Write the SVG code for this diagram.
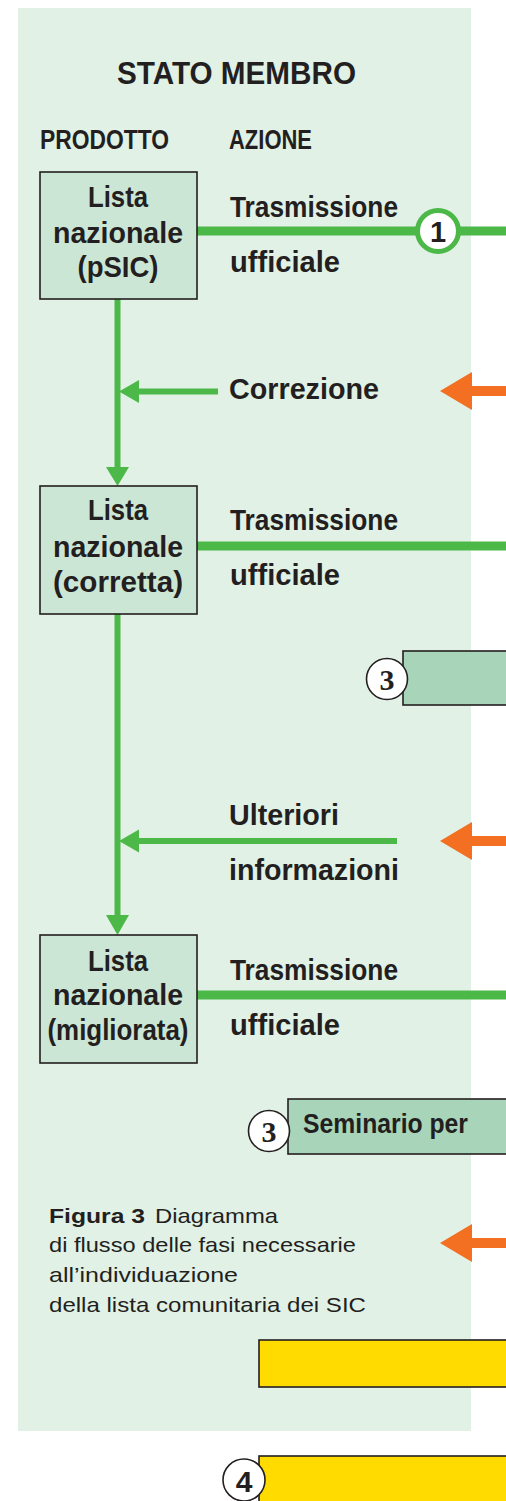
<svg xmlns="http://www.w3.org/2000/svg" width="506" height="1501" viewBox="0 0 506 1501">
<style>
.t{font-family:"Liberation Sans",Arial,sans-serif;font-weight:bold;fill:#231f20}
.c{text-anchor:middle}
.cap{font-family:"Liberation Sans",Arial,sans-serif;font-size:21px;fill:#231f20}
.box{fill:#cce6d6;stroke:#231f20;stroke-width:1.6}
.gbox{fill:#a8d5b9;stroke:#231f20;stroke-width:1.6}
.ybox{fill:#ffdb00;stroke:#231f20;stroke-width:1.6}
.num{fill:#fff;stroke:#231f20;stroke-width:1.6}
.g{stroke:#4cb848;fill:none}
.ga{fill:#4cb848}
.o{fill:#f36f21}
</style>
<rect id="panel" x="18" y="8" width="453" height="1423" fill="#e1f1e6"/>
<g id="headers">
<text class="t" x="117" y="84" font-size="31" textLength="239" lengthAdjust="spacingAndGlyphs">STATO MEMBRO</text>
<text class="t" x="40" y="149" font-size="27" textLength="129" lengthAdjust="spacingAndGlyphs">PRODOTTO</text>
<text class="t" x="229" y="149" font-size="27" textLength="83" lengthAdjust="spacingAndGlyphs">AZIONE</text>
</g>
<g id="connectors">
<line class="g" x1="197" y1="231" x2="506" y2="231" stroke-width="9"/>
<line class="g" x1="197" y1="546" x2="506" y2="546" stroke-width="9"/>
<line class="g" x1="197" y1="995" x2="506" y2="995" stroke-width="9"/>
<line class="g" x1="117.5" y1="299" x2="117.5" y2="470" stroke-width="6"/>
<polygon class="ga" points="106,467 129,467 117.5,486"/>
<line class="g" x1="117.5" y1="614" x2="117.5" y2="918" stroke-width="6"/>
<polygon class="ga" points="106,915 129,915 117.5,935"/>
<line class="g" x1="218" y1="391.5" x2="136" y2="391.5" stroke-width="6"/>
<polygon class="ga" points="139,380 139,403 119,391.5"/>
<line class="g" x1="397" y1="841" x2="136" y2="841" stroke-width="6"/>
<polygon class="ga" points="139,829.5 139,852.5 119,841"/>
<rect class="o" x="470" y="386" width="36" height="10"/>
<polygon class="o" points="472,372 472,410 440,391"/>
<rect class="o" x="470" y="836" width="36" height="10"/>
<polygon class="o" points="472,822 472,860 440,841"/>
<rect class="o" x="470" y="1238" width="36" height="10"/>
<polygon class="o" points="472,1224 472,1262 440,1243"/>
</g>
<g id="node-pSIC">
<rect class="box" x="40" y="172" width="157" height="127"/>
<text class="t c" x="118" y="207" font-size="30" textLength="60" lengthAdjust="spacingAndGlyphs">Lista</text>
<text class="t c" x="118" y="243" font-size="30" textLength="130" lengthAdjust="spacingAndGlyphs">nazionale</text>
<text class="t c" x="118" y="277" font-size="30" textLength="81" lengthAdjust="spacingAndGlyphs">(pSIC)</text>
</g>
<g id="label-trasm1">
<text class="t" x="230" y="217" font-size="29" textLength="168" lengthAdjust="spacingAndGlyphs">Trasmissione</text>
<text class="t" x="230" y="272" font-size="29" textLength="110" lengthAdjust="spacingAndGlyphs">ufficiale</text>
</g>
<g id="step-1">
<circle cx="438" cy="231" r="20.5" fill="#fff" stroke="#4cb848" stroke-width="5"/>
<text class="t c" x="438" y="242" font-size="29">1</text>
</g>
<g id="label-correzione">
<text class="t" x="229" y="399" font-size="29" textLength="150" lengthAdjust="spacingAndGlyphs">Correzione</text>
</g>
<g id="node-corretta">
<rect class="box" x="40" y="486" width="157" height="128"/>
<text class="t c" x="118" y="520" font-size="30" textLength="60" lengthAdjust="spacingAndGlyphs">Lista</text>
<text class="t c" x="118" y="557" font-size="30" textLength="130" lengthAdjust="spacingAndGlyphs">nazionale</text>
<text class="t c" x="118" y="592" font-size="30" textLength="130" lengthAdjust="spacingAndGlyphs">(corretta)</text>
</g>
<g id="label-trasm2">
<text class="t" x="230" y="530" font-size="29" textLength="168" lengthAdjust="spacingAndGlyphs">Trasmissione</text>
<text class="t" x="230" y="585" font-size="29" textLength="110" lengthAdjust="spacingAndGlyphs">ufficiale</text>
</g>
<g id="step-3a">
<rect class="gbox" x="403" y="651" width="110" height="54"/>
<circle class="num" cx="387" cy="679" r="20.5"/>
<text x="387" y="690" font-family="'Liberation Serif','Times New Roman',serif" font-weight="bold" font-size="30" text-anchor="middle" fill="#231f20">3</text>
</g>
<g id="label-ulteriori">
<text class="t" x="229" y="825" font-size="29" textLength="110" lengthAdjust="spacingAndGlyphs">Ulteriori</text>
<text class="t" x="229" y="880" font-size="29" textLength="170" lengthAdjust="spacingAndGlyphs">informazioni</text>
</g>
<g id="node-migliorata">
<rect class="box" x="40" y="935" width="157" height="128"/>
<text class="t c" x="118" y="971" font-size="30" textLength="60" lengthAdjust="spacingAndGlyphs">Lista</text>
<text class="t c" x="118" y="1005" font-size="30" textLength="130" lengthAdjust="spacingAndGlyphs">nazionale</text>
<text class="t c" x="118" y="1040" font-size="30" textLength="141" lengthAdjust="spacingAndGlyphs">(migliorata)</text>
</g>
<g id="label-trasm3">
<text class="t" x="230" y="980" font-size="29" textLength="168" lengthAdjust="spacingAndGlyphs">Trasmissione</text>
<text class="t" x="230" y="1035" font-size="29" textLength="110" lengthAdjust="spacingAndGlyphs">ufficiale</text>
</g>
<g id="step-3b">
<rect class="gbox" x="288" y="1099" width="225" height="55"/>
<circle class="num" cx="269" cy="1131" r="20.5"/>
<text x="269" y="1142" font-family="'Liberation Serif','Times New Roman',serif" font-weight="bold" font-size="30" text-anchor="middle" fill="#231f20">3</text>
<text class="t" x="303" y="1133" font-size="27" textLength="165" lengthAdjust="spacingAndGlyphs">Seminario per</text>
</g>
<g id="caption">
<text class="cap" x="49" y="1223" font-weight="bold" textLength="96" lengthAdjust="spacingAndGlyphs">Figura 3</text>
<text class="cap" x="155" y="1223" textLength="123" lengthAdjust="spacingAndGlyphs">Diagramma</text>
<text class="cap" x="49" y="1252" textLength="307" lengthAdjust="spacingAndGlyphs">di flusso delle fasi necessarie</text>
<text class="cap" x="49" y="1282" textLength="189" lengthAdjust="spacingAndGlyphs">all’individuazione</text>
<text class="cap" x="49" y="1312" textLength="317" lengthAdjust="spacingAndGlyphs">della lista comunitaria dei SIC</text>
</g>
<g id="yellow-1">
<rect class="ybox" x="259" y="1340" width="254" height="47"/>
</g>
<g id="step-4">
<rect class="ybox" x="259" y="1456" width="254" height="60"/>
<circle class="num" cx="244" cy="1480" r="21"/>
<text class="t c" x="244" y="1492" font-size="30">4</text>
</g>
</svg>
